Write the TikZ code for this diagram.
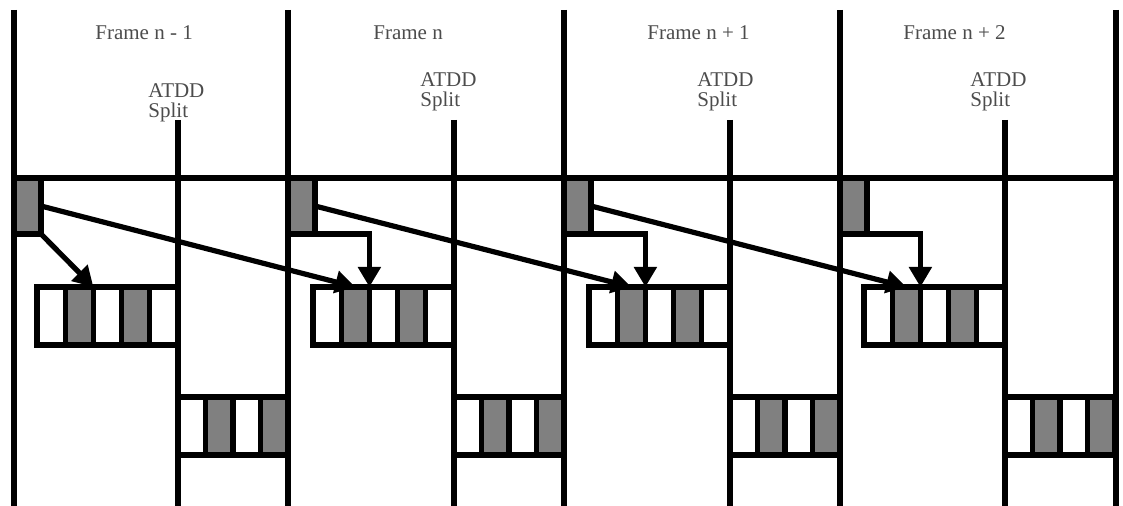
\documentclass[tikz,border=0pt]{standalone}
\usepackage{fontspec}
\setmainfont{Liberation Serif}
\usepackage{tikz}
\usetikzlibrary{arrows.meta,positioning}

\begin{document}
\begin{tikzpicture}[x=0.5pt,y=-0.5pt,font=\fontsize{10.5}{10}\selectfont,
  bar/.style={line width=3.2pt},
  pkt/.style={draw,fill=black!50,line width=2.6pt,minimum width=13.5pt,minimum height=28pt,inner sep=0pt,outer sep=0pt,anchor=north west},
  slot/.style={draw,line width=2.6pt,minimum width=14.1pt,minimum height=29pt,inner sep=0pt,outer sep=0pt,anchor=north west},
  tag/.style={text=black!70,inner sep=0pt},
  arr/.style={line width=2.6pt,-{Triangle[width=11pt,length=10pt]}}]
\useasboundingbox (0,0) rectangle (1123,506);
% frame borders and the top line
\foreach \f in {14,288,564,840,1116} \draw[bar] (\f,10) -- (\f,506);
\draw[bar] (14,178) -- (1116,178);
% one frame each
\foreach \k/\f/\s/\lx/\ax/\ay/\nm in {1/14/178/95/148/83/{n - 1},2/288/454/373/420/72/{n},3/564/730/647/697/72/{n + 1},4/840/1005/903/970/72/{n + 2}} {
  \node[tag,anchor=west] (frm\k) at (\lx,33) {Frame \nm};
  \node[tag,anchor=north west,align=left] (atdd\k) at (\ax,\ay) {ATDD\\Split};
  \draw[bar] (\s,120) -- (\s,506);
  \node[pkt] (pkt\k) at (\f,178) {};
  \foreach \i/\c in {1/none,2/black!50,3/none,4/black!50,5/none}
    \node[slot,fill=\c] (up\k-\i) at (\s-141+28.2*\i-28.2,287) {};
  \foreach \i/\c in {1/none,2/black!50,3/none,4/black!50}
    \node[slot,fill=\c,minimum width=13.75pt] (lo\k-\i) at (\s+27.5*\i-27.5,397) {};
}
% arrows
\draw[arr] (pkt1.south east) -- (up1-2.north east);
\foreach \k in {2,3,4} \draw[arr] (pkt\k.south east) -| (up\k-2.north east);
\foreach \k/\n in {1/2,2/3,3/4} \draw[arr] (pkt\k.east) -- (up\n-2.north);
\end{tikzpicture}
\end{document}
